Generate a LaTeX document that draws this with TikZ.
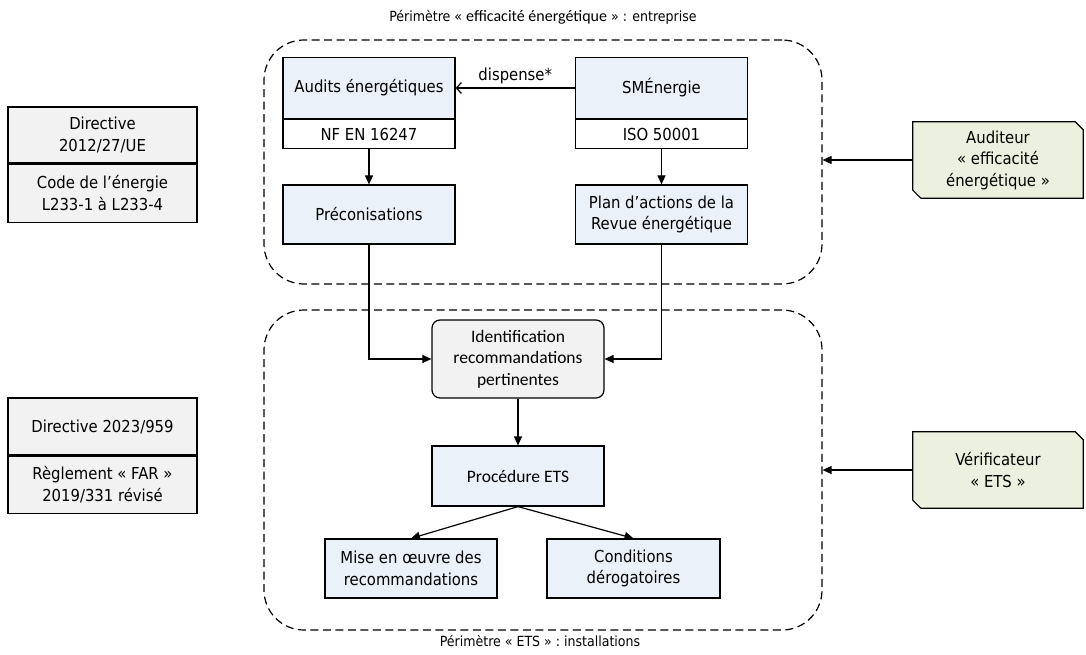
\documentclass[tikz,border=0pt]{standalone}
\usepackage{fontspec}
\setmainfont{DejaVu Sans Condensed}
\newfontfamily\calib{Carlito}
\usetikzlibrary{arrows.meta,backgrounds}

\definecolor{bluefill}{HTML}{EAF1F8}
\definecolor{grayfill}{HTML}{F2F2F2}
\definecolor{greenfill}{HTML}{EBF1DE}

\tikzset{
  every node/.style={font=\fontsize{16.5}{21.5}\selectfont},
  title/.style={font=\fontsize{14}{18}\selectfont},
  calfont/.style={font=\calib\fontsize{17.5}{21.5}\selectfont},
  base/.style={draw, line width=1.2pt, align=center, inner sep=0pt, minimum width=172pt},
  bluebox/.style={base, fill=bluefill},
  whitebox/.style={base, fill=white},
  graybox/.style={base, fill=grayfill, minimum width=189pt},
  identbox/.style={base, fill=grayfill, rounded corners=8pt, calfont},
  greenbox/.style={align=center, inner sep=0pt, minimum width=170pt, minimum height=76pt},
  perimeter/.style={draw, line width=1.2pt, dash pattern=on 8pt off 4.5pt, rounded corners=40pt, inner sep=0pt},
  flow/.style={line width=1.2pt, -{Triangle[length=9pt,width=8pt]}},
  openflow/.style={line width=1.2pt, -{Straight Barb[length=5pt,width=11pt]}},
}

\begin{document}
\begin{tikzpicture}[x=1pt, y=-1pt]
\useasboundingbox (0,0) rectangle (1086,655);

% perimeters
\node[perimeter, minimum width=558pt, minimum height=244pt] (topc) at (543,162) {};
\node[perimeter, minimum width=558pt, minimum height=320pt] (botc) at (543,470) {};
\node[title] (toptitle) at (543,17) {Périmètre « {\calib\fontsize{16}{21}\selectfont efficacité énergétique} » : entreprise};
\node[title] (bottitle) at (540,641) {Périmètre « ETS » : installations};

% energy efficiency side
\node[bluebox, minimum height=61pt] (audit) at (369,88) {Audits énergétiques};
\node[whitebox, minimum height=29pt, anchor=north] (auditstd) at (audit.south) {NF EN 16247};
\node[bluebox, minimum height=61pt] (sme) at (661.5,88) {SMÉnergie};
\node[whitebox, minimum height=29pt, anchor=north] (smestd) at (sme.south) {ISO 50001};
\node[bluebox, minimum height=59pt] (preco) at (369,214.5) {Préconisations};
\node[bluebox, minimum height=59pt] (plan) at (661.5,214.5) {Plan d’actions de la\\Revue énergétique};

\draw[openflow] (sme.west) -- node[above, pos=0.5] (disp) {dispense*} (audit.east);
\draw[flow] (auditstd.south) -- (preco.north);
\draw[flow] (smestd.south) -- (plan.north);

% ETS side
\node[identbox, minimum height=78pt] (ident) at (518,359) {Identification\\recommandations\\pertinentes};
\node[bluebox, minimum height=60pt, calfont] (proc) at (518,476) {Procédure ETS};
\node[bluebox, minimum height=59pt] (mise) at (411,568.5) {Mise en œuvre des\\recommandations};
\node[bluebox, minimum height=59pt, minimum width=173pt] (cond) at (633.5,568.5) {Conditions\\dérogatoires};

\draw[flow] (preco.south) |- (ident.west);
\draw[flow] (plan.south) |- (ident.east);
\draw[flow] (ident.south) -- (proc.north);
\draw[flow] (proc.south) -- (mise.north);
\draw[flow] (proc.south) -- (cond.north);

% regulatory references
\node[graybox, minimum height=56pt] (dir1) at (102.5,135) {Directive\\2012/27/UE};
\node[graybox, minimum height=58pt, anchor=north] (code) at (dir1.south) {Code de l’énergie\\L233-1 à L233-4};
\node[graybox, minimum height=57pt] (dir2) at (102.5,426.5) {Directive 2023/959};
\node[graybox, minimum height=57pt, anchor=north] (far) at (dir2.south) {Règlement « FAR »\\2019/331 révisé};

% auditors (boxes with two clipped corners)
\node[greenbox] (auditor) at (998,160) {Auditeur\\« efficacité\\énergétique »};
\node[greenbox] (verif) at (998,470) {Vérificateur\\« ETS »};
\begin{scope}[on background layer]
\foreach \n in {auditor, verif} {
  \draw[line width=1.2pt, fill=greenfill]
    (\n.north west) -- ([xshift=-8pt]\n.north east) -- ([yshift=-8pt]\n.north east)
    -- (\n.south east) -- ([xshift=8pt]\n.south west) -- ([yshift=8pt]\n.south west) -- cycle;
}
\end{scope}

\draw[flow] (auditor.west) -- (auditor.west -| topc.east);
\draw[flow] (verif.west) -- (verif.west -| botc.east);
\end{tikzpicture}
\end{document}
